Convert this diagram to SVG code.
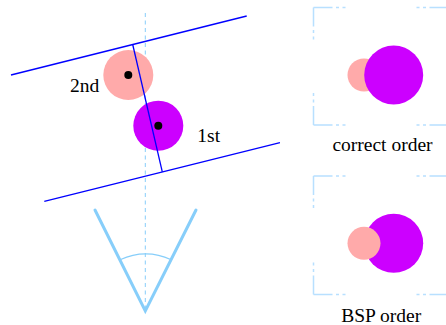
<svg xmlns="http://www.w3.org/2000/svg" width="446" height="325" viewBox="0 0 446 325">
<style>
.axis{stroke:#87cefa;stroke-width:1;stroke-dasharray:4 3.5;fill:none}
.plane{stroke:#0000ff;stroke-width:1.3;fill:none}
.pink{fill:#ffaaaa}
.purple{fill:#cc00ff}
.dot{fill:#000}
.frame{stroke:#b8e0ff;stroke-width:1.5;fill:none;stroke-dasharray:19 3.5 3 3.5 3 300}
.view{stroke:#87cefa;stroke-width:3;fill:none;stroke-linecap:round}
.arc{stroke:#87cefa;stroke-width:1.3;fill:none}
text{font-family:"Liberation Serif","Times New Roman",serif;font-size:19.5px;fill:#000}
</style>
<g id="axis"><line class="axis" x1="145.3" y1="13" x2="145.3" y2="310"/></g>
<g id="connectors">
<line class="plane" x1="11" y1="75" x2="246.7" y2="16"/>
<line class="plane" x1="44.3" y1="201.3" x2="280" y2="142.7"/>
</g>
<g id="obj2nd"><circle class="pink" cx="128.3" cy="75" r="25"/><circle class="dot" cx="128.3" cy="75" r="4"/></g>
<g id="obj1st"><circle class="purple" cx="158.3" cy="125.7" r="25"/><circle class="dot" cx="158.3" cy="125.7" r="4"/></g>
<g id="splitter"><line class="plane" x1="132.7" y1="44.5" x2="162.3" y2="171.8"/></g>
<g id="labels"><text x="70" y="91.7">2nd</text><text x="197.3" y="142.3">1st</text></g>
<g id="viewer">
<path class="view" d="M95,210 L145.3,311 L196,210"/>
<path class="arc" d="M120.7,259.5 A58,58 0 0 1 170.7,259.5"/>
</g>
<g id="correct">
<path class="frame" d="M313.5,7.5 H381 M448.5,7.5 H381 M313.5,125 H381 M448.5,125 H381 M313.5,7.5 V66 M313.5,125 V66"/>
<circle class="pink" cx="364" cy="75" r="16.5"/>
<circle class="purple" cx="393.7" cy="75" r="29.5"/>
<text x="382.5" y="150.7" text-anchor="middle">correct order</text>
</g>
<g id="bsp">
<path class="frame" d="M313.5,176 H381 M448.5,176 H381 M313.5,294.5 H381 M448.5,294.5 H381 M313.5,176 V235 M313.5,294.5 V235"/>
<circle class="purple" cx="393.7" cy="243.3" r="29.5"/>
<circle class="pink" cx="364" cy="243.3" r="16.5"/>
<text x="381.2" y="321.7" text-anchor="middle">BSP order</text>
</g>
</svg>
